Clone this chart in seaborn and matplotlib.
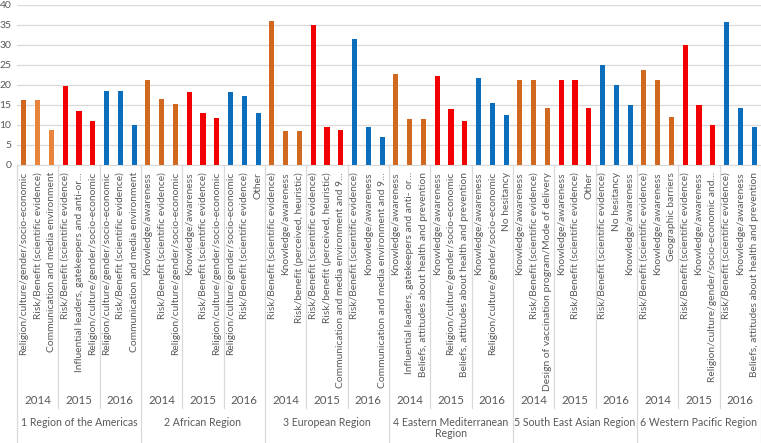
import matplotlib
matplotlib.use("Agg")
import matplotlib.pyplot as plt
import seaborn as sns
import pandas as pd

# regions and years (groups of three bars)
regions = ["1 Region of the Americas", "2 African Region", "3 European Region",
           "4 Eastern Mediterranean\nRegion", "5 South East Asian Region", "6 Western Pacific Region"]
years = ["2014", "2015", "2016"]

labels = [
    # Americas
    "Religion/culture/gender/socio-economic", "Risk/Benefit (scientific evidence)", "Communication and media environment",
    "Risk/Benefit (scientific evidence)", "Influential leaders, gatekeepers and anti-or…", "Religion/culture/gender/socio-economic",
    "Religion/culture/gender/socio-economic", "Risk/Benefit (scientific evidence)", "Communication and media environment",
    # African
    "Knowledge/awareness", "Risk/Benefit (scientific evidence)", "Religion/culture/gender/socio-economic",
    "Knowledge/awareness", "Risk/Benefit (scientific evidence)", "Religion/culture/gender/socio-economic",
    "Religion/culture/gender/socio-economic", "Risk/Benefit (scientific evidence)", "Other",
    # European
    "Risk/Benefit (scientific evidence)", "Knowledge/awareness", "Risk/benefit (perceived, heuristic)",
    "Risk/Benefit (scientific evidence)", "Risk/benefit (perceived, heuristic)", "Communication and media environment and 9…",
    "Risk/Benefit (scientific evidence)", "Knowledge/awareness", "Communication and media environment and 9…",
    # Eastern Mediterranean
    "Knowledge/awareness", "Influential leaders, gatekeepers and anti- or…", "Beliefs, attitudes about health and prevention",
    "Knowledge/awareness", "Religion/culture/gender/socio-economic", "Beliefs, attitudes about health and prevention",
    "Knowledge/awareness", "Religion/culture/gender/socio-economic", "No hesitancy",
    # South East Asian
    "Knowledge/awareness", "Risk/Benefit (scientific evidence)", "Design of vaccination program/Mode of delivery",
    "Knowledge/awareness", "Risk/Benefit (scientific evidence)", "Other",
    "Risk/Benefit (scientific evidence)", "No hesitancy", "Knowledge/awareness",
    # Western Pacific
    "Risk/Benefit (scientific evidence)", "Knowledge/awareness", "Geographic barriers",
    "Risk/Benefit (scientific evidence)", "Knowledge/awareness", "Religion/culture/gender/socio-economic and…",
    "Risk/Benefit (scientific evidence)", "Knowledge/awareness", "Beliefs, attitudes about health and prevention",
]

values = [
    16.3, 16.3, 8.8, 19.8, 13.6, 11.1, 18.5, 18.5, 9.9,
    21.2, 16.5, 15.3, 18.2, 12.9, 11.7, 18.2, 17.2, 12.9,
    36.1, 8.5, 8.5, 35.0, 9.6, 8.7, 31.5, 9.6, 7.1,
    22.8, 11.4, 11.4, 22.2, 13.9, 11.1, 21.8, 15.6, 12.5,
    21.3, 21.3, 14.3, 21.3, 21.3, 14.3, 24.9, 19.9, 14.9,
    23.7, 21.3, 11.9, 29.9, 14.9, 9.9, 35.7, 14.3, 9.6,
]

year_colors = {"2014": "#D0691F", "2015": "#F20000", "2016": "#0A6EBD"}
light_orange = "#E8843C"

df = pd.DataFrame({
    "pos": range(len(values)),
    "value": values,
    "year": [years[(i // 3) % 3] for i in range(len(values))],
})
colors = [year_colors[y] for y in df["year"]]
colors[1] = light_orange
colors[2] = light_orange

fig = plt.figure(figsize=(7.61, 4.43), dpi=100)
ax = fig.add_axes([17 / 761, 1 - 165 / 443, 744 / 761, 160 / 443])

sns.barplot(data=df, x="pos", y="value", hue="pos", palette=colors,
            legend=False, width=0.37, ax=ax, saturation=1)

txt = "#595959"
grid = "#D9D9D9"
font = "Lato"

ax.set_ylim(0, 40)
ax.set_xlim(-0.5, len(values) - 0.5)
ax.set_yticks(range(0, 41, 5))
ax.yaxis.grid(True, color=grid, linewidth=0.9)
ax.set_axisbelow(True)
for s in ["left", "right", "top"]:
    ax.spines[s].set_visible(False)
ax.spines["bottom"].set_color(grid)
ax.set_xlabel("")
ax.set_ylabel("")
ax.tick_params(axis="both", length=0, colors=txt)
ax.tick_params(axis="y", labelsize=7.5, pad=4)
ax.tick_params(axis="x", pad=5)
ax.set_xticks(range(len(labels)))
ax.set_xticklabels(labels, rotation=90, fontsize=7.4, color=txt, family=font, va="top")
for t in ax.get_yticklabels():
    t.set_family(font)

trans = ax.get_xaxis_transform()
# separators under the axis
for g in range(19):
    x = 3 * g - 0.5
    bottom = -1.74 if g % 3 == 0 else -1.52
    ax.plot([x, x], [0, bottom], transform=trans, color=grid, linewidth=0.9, clip_on=False)

for g in range(18):
    ax.text(3 * g + 1, -1.47, years[g % 3], transform=trans, ha="center", va="center",
            fontsize=8.3, color=txt, family=font)

for r, name in enumerate(regions):
    ax.text(9 * r + 4, -1.572, name, transform=trans, ha="center", va="top",
            fontsize=7.6, color=txt, family=font, linespacing=1.05)

fig.savefig("out.png", dpi=100)
